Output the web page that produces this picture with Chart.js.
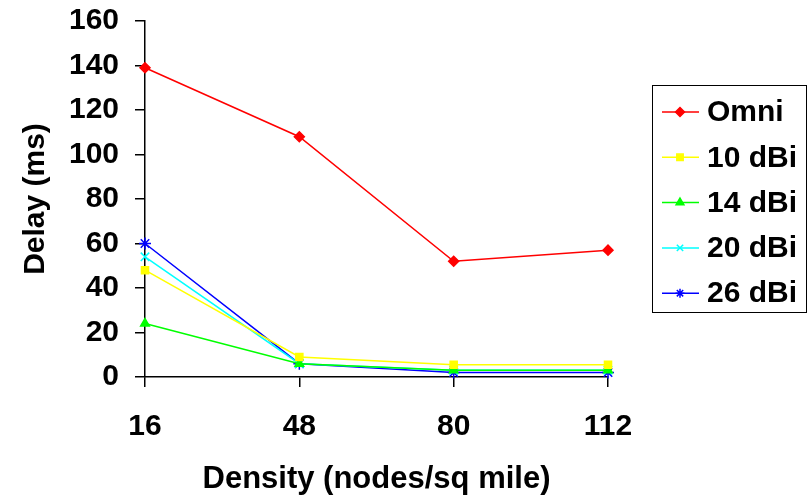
<!DOCTYPE html>
<html><head><meta charset="utf-8">
<script src="https://cdn.jsdelivr.net/npm/chart.js@4/dist/chart.umd.min.js"></script>
<style>html,body{margin:0;padding:0;background:#fff}#wrap{width:811px;height:498px}</style>
</head><body><div id="wrap"><canvas id="c" width="811" height="498"></canvas></div>
<script>
const categories = ['16','48','80','112'];
const seriesNames = ['Omni','10 dBi','14 dBi','20 dBi','26 dBi'];
const omni  = [139, 108, 52, 57];
const dbi10 = [48, 9, 5.5, 5.5];
const dbi14 = [24, 6, 3, 3];
const dbi20 = [54, 6, 3, 3];
const dbi26 = [60, 6, 2, 2];
const yTicks = [0,20,40,60,80,100,120,140,160];

const colors = ['#ff0000','#ffff00','#00ff00','#00ffff','#0000ff'];
const styles = ['rectRot','rect','triangle','crossRot','star'];
const radii = [5,5,5,6,6];
const allData = [omni, dbi10, dbi14, dbi20, dbi26];
const FONT = '"Liberation Sans", Arial, sans-serif';

const datasets = seriesNames.map((n,i)=>({
  label:n, data:allData[i], borderColor:colors[i], backgroundColor:colors[i],
  pointStyle:styles[i], pointRadius:radii[i], pointBorderWidth:1.5, borderWidth:1.5,
  tension:0, fill:false, clip:false
}));

const legendPlugin = {
  id:'boxLegend',
  afterDraw(chart){
    const ctx = chart.ctx;
    const x0=652, y0=85, w=154, h=227;
    ctx.save();
    ctx.strokeStyle='#000'; ctx.lineWidth=1;
    ctx.strokeRect(x0+0.5,y0+0.5,w,h);
    ctx.font='bold 30px ' + FONT;
    ctx.textBaseline='middle'; ctx.textAlign='left';
    chart.data.datasets.forEach((ds,i)=>{
      const y = 112 + i*45.3;
      ctx.strokeStyle=ds.borderColor; ctx.lineWidth=1.5;
      ctx.beginPath(); ctx.moveTo(662,y); ctx.lineTo(699,y); ctx.stroke();
      ctx.fillStyle=ds.backgroundColor;
      Chart.helpers.drawPoint(ctx,{pointStyle:ds.pointStyle,radius:4.5,borderWidth:1.5,rotation:0},680,y);
      ctx.fillStyle='#000';
      ctx.fillText(ds.label,707,y+1);
    });
    ctx.restore();
  }
};

new Chart(document.getElementById('c'),{
  type:'line',
  data:{labels:categories, datasets},
  options:{
    responsive:false, animation:false,
    layout:{padding:{top:21,right:203,left:0,bottom:0}},
    plugins:{legend:{display:false},tooltip:{enabled:false}},
    scales:{
      x:{
        offset:false,
        grid:{display:true,drawOnChartArea:false,drawTicks:true,tickLength:10,color:'#000',lineWidth:1.5},
        border:{display:true,color:'#000',width:1.5},
        ticks:{color:'#000',padding:22,font:{family:FONT,size:30,weight:'bold'},maxRotation:0},
        title:{display:true,text:'Density (nodes/sq mile)',color:'#000',font:{family:FONT,size:31,weight:'bold'},padding:{top:17,bottom:0}},
        afterFit(s){ s.height = 121; }
      },
      y:{
        min:0,max:160,
        afterBuildTicks(s){ s.ticks = yTicks.map(v=>({value:v})); },
        grid:{display:true,drawOnChartArea:false,drawTicks:true,tickLength:10,color:'#000',lineWidth:1.5},
        border:{display:true,color:'#000',width:1.5},
        ticks:{color:'#000',padding:16,font:{family:FONT,size:30,weight:'bold'}},
        title:{display:true,text:'Delay (ms)',color:'#000',font:{family:FONT,size:30,weight:'bold'},padding:{top:18,bottom:0}},
        afterFit(s){ s.width = 145; s.paddingTop = 0; s.paddingBottom = 0; }
      }
    }
  },
  plugins:[legendPlugin]
});
</script></body></html>
